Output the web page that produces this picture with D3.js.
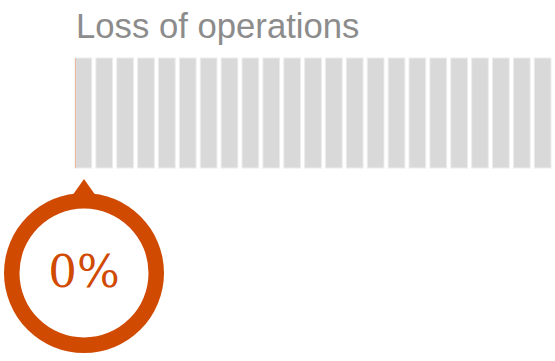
<!DOCTYPE html>
<html>
<head>
<meta charset="utf-8">
<script src="https://cdn.jsdelivr.net/npm/d3@7"></script>
<style>
  body { margin: 0; background: #fff; }
  svg { display: block; }
</style>
</head>
<body>
<div class="chart"></div>
<script>
// gauge data
const title = "Loss of operations";
const segments = d3.range(1, 24); // 23 blocks on the strip
const value = 0; // share of operations lost
const valueLabel = "0%";

const width = 555, height = 361;
const orange = "#d04a02";

const svg = d3.select(".chart")
  .append("svg")
  .attr("width", width)
  .attr("height", height);

// strip of blocks
const x = d3.scaleBand()
  .domain(segments)
  .range([75, 551])
  .paddingInner(0.2)
  .paddingOuter(0);

const pct = d3.scaleLinear()
  .domain([0, 1])
  .range([75, 551]);

svg.append("text")
  .attr("x", 76)
  .attr("y", 38)
  .attr("fill", "#8c8c8c")
  .style("font-family", "'Liberation Sans', Arial, sans-serif")
  .style("font-size", "34.7px")
  .text(title);

svg.selectAll("rect.block")
  .data(segments)
  .enter()
  .append("rect")
  .attr("class", "block")
  .attr("x", d => x(d))
  .attr("y", 58)
  .attr("width", x.bandwidth())
  .attr("height", 110)
  .attr("fill", "#d9d9d9")
  .attr("stroke", "#ececec")
  .attr("stroke-width", 1);

//thin marker where the value sits on the strip
svg.append("line")
  .attr("x1", pct(value) + 0.5)
  .attr("x2", pct(value) + 0.5)
  .attr("y1", 58)
  .attr("y2", 168)
  .attr("stroke", "#eab9a0")
  .attr("stroke-width", 1);

// ring with pointer
const cx = 84, cy = 273;
const g = svg.append("g")
  .attr("transform", `translate(${cx},${cy})`);

const arc = d3.arc()
  .innerRadius(64.5)
  .outerRadius(80)
  .startAngle(0)
  .endAngle(2 * Math.PI);

g.append("path")
  .attr("d", arc())
  .attr("fill", orange);

g.append("path")
  .attr("d", "M0,-94 L-12,-77 L12,-77 Z")
  .attr("fill", orange);

g.append("text")
  .attr("x", 0)
  .attr("y", 14)
  .attr("text-anchor", "middle")
  .attr("fill", orange)
  .style("font-family", "'DejaVu Serif', 'Liberation Serif', serif")
  .style("font-size", "45px")
  .text(valueLabel);
</script>
</body>
</html>
